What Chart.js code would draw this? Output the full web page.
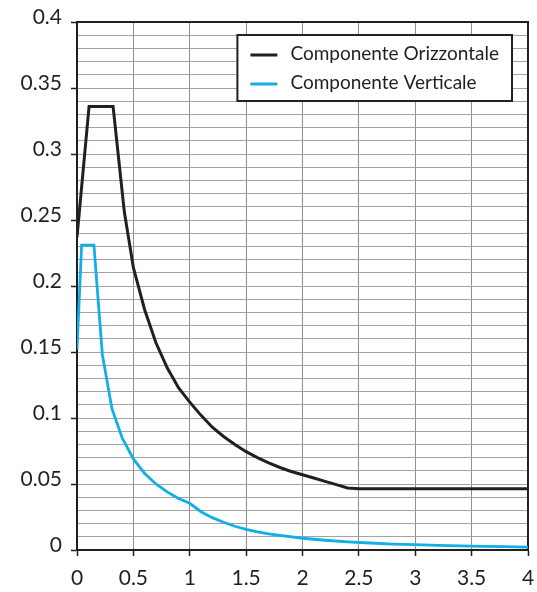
<!DOCTYPE html>
<html>
<head>
<meta charset="utf-8">
<script src="https://cdn.jsdelivr.net/npm/chart.js@4/dist/chart.umd.min.js"></script>
<style>
  html, body { margin: 0; padding: 0; background: #ffffff; }
  #wrap { width: 537px; height: 592px; }
</style>
</head>
<body>
<div id="wrap"><canvas id="c" width="537" height="592"></canvas></div>
<script>
// ---- data ----
const seriesLabels = ['Componente Orizzontale', 'Componente Verticale'];
const seriesColors = ['#231f20', '#12aee8'];

const hPeriods = [0, 0.107, 0.32, 0.42, 0.5, 0.6, 0.7, 0.8, 0.9, 1.0, 1.1, 1.2, 1.3, 1.4, 1.5, 1.6, 1.7, 1.8, 1.9, 2.0, 2.1, 2.2, 2.3, 2.4, 2.5, 3.0, 3.5, 4.0];
const hValues  = [0.237, 0.336, 0.336, 0.256, 0.214, 0.182, 0.157, 0.138, 0.123, 0.112, 0.102, 0.093, 0.086, 0.080, 0.0745, 0.070, 0.066, 0.0625, 0.0595, 0.057, 0.0545, 0.052, 0.0495, 0.047, 0.0464, 0.0464, 0.0464, 0.0464];

const vPeriods = [0, 0.041, 0.15, 0.225, 0.31, 0.4, 0.5, 0.6, 0.7, 0.8, 0.9, 1.0, 1.1, 1.2, 1.3, 1.4, 1.5, 1.6, 1.7, 1.8, 2.0, 2.2, 2.4, 2.6, 2.8, 3.0, 3.2, 3.4, 3.6, 3.8, 4.0];
const vValues  = [0.152, 0.231, 0.231, 0.148, 0.107, 0.085, 0.069, 0.058, 0.050, 0.044, 0.039, 0.0354, 0.029, 0.0245, 0.021, 0.018, 0.0157, 0.0138, 0.0122, 0.011, 0.0089, 0.0074, 0.0062, 0.0053, 0.0045, 0.0040, 0.0035, 0.0031, 0.0027, 0.0025, 0.0022];

const xTickLabels = ['0', '0.5', '1', '1.5', '2', '2.5', '3', '3.5', '4'];
const yTickLabels = ['0', '0.05', '0.1', '0.15', '0.2', '0.25', '0.3', '0.35', '0.4'];

// ---- helpers ----
const FONT = 'Lato, "Open Sans", sans-serif';
const TEXT = '#231f20';
function pts(xs, ys) { return xs.map((x, i) => ({ x: x, y: ys[i] })); }
function yMajorIndex(v) { const k = Math.round(v * 100); return k % 5 === 0 ? k / 5 : -1; }

const framePlugin = {
  id: 'frame',
  beforeDatasetsDraw(chart) {
    const a = chart.chartArea, ctx = chart.ctx;
    ctx.save();
    ctx.strokeStyle = '#231f20';
    ctx.lineWidth = 2;
    ctx.beginPath();
    ctx.moveTo(a.left, a.top);
    ctx.lineTo(a.right, a.top);
    ctx.lineTo(a.right, a.bottom);
    ctx.stroke();
    ctx.restore();
  }
};

const legendPlugin = {
  id: 'boxLegend',
  afterDraw(chart) {
    const a = chart.chartArea, ctx = chart.ctx;
    ctx.save();
    ctx.font = '19px ' + FONT;
    const ds = chart.data.datasets;
    let tw = 0;
    ds.forEach(d => { tw = Math.max(tw, ctx.measureText(d.label).width); });
    const padL = 13, lineLen = 27, gap = 13, padR = 13, rowH = 29;
    const w = padL + lineLen + gap + tw + padR;
    const h = 66;
    const right = a.right - 16;
    const x = right - w, y = a.top + 13;
    ctx.fillStyle = '#ffffff';
    ctx.fillRect(x, y, w, h);
    ctx.strokeStyle = '#231f20';
    ctx.lineWidth = 2;
    ctx.strokeRect(x, y, w, h);
    ds.forEach((d, i) => {
      const cy = y + 19 + i * rowH;
      ctx.strokeStyle = d.borderColor;
      ctx.lineWidth = 3;
      ctx.beginPath();
      ctx.moveTo(x + padL, cy + 1);
      ctx.lineTo(x + padL + lineLen, cy + 1);
      ctx.stroke();
      ctx.fillStyle = TEXT;
      ctx.textBaseline = 'middle';
      ctx.textAlign = 'left';
      ctx.fillText(d.label, x + padL + lineLen + gap, cy);
    });
    ctx.restore();
  }
};

new Chart(document.getElementById('c'), {
  type: 'line',
  data: {
    datasets: [
      { label: seriesLabels[0], data: pts(hPeriods, hValues), borderColor: seriesColors[0], borderWidth: 3, pointRadius: 0, fill: false, tension: 0 },
      { label: seriesLabels[1], data: pts(vPeriods, vValues), borderColor: seriesColors[1], borderWidth: 2.8, pointRadius: 0, fill: false, tension: 0 }
    ]
  },
  options: {
    responsive: false,
    animation: false,
    devicePixelRatio: 1,
    layout: { padding: { left: 0, top: 22, right: 9, bottom: 0 } },
    plugins: { legend: { display: false }, tooltip: { enabled: false } },
    scales: {
      x: {
        type: 'linear', min: 0, max: 4,
        afterFit(s) { s.height = 42; s.paddingLeft = 0; s.paddingRight = 0; },
        border: { color: '#231f20', width: 2 },
        grid: { color: '#8f8f8f', lineWidth: 1, tickLength: 6, tickColor: '#231f20', tickWidth: 1.5 },
        ticks: {
          stepSize: 0.5, autoSkip: false, maxRotation: 0, padding: 10, color: TEXT,
          font: { family: FONT, size: 21 },
          callback(v) { const i = Math.round(v * 2); return xTickLabels[i] !== undefined ? xTickLabels[i] : ''; }
        }
      },
      y: {
        type: 'linear', min: 0, max: 0.4,
        afterFit(s) { s.width = 77; s.paddingTop = 0; s.paddingBottom = 0; },
        border: { color: '#231f20', width: 2 },
        grid: {
          color(c) { return c.tick && Math.round(c.tick.value * 100) === 0 ? 'rgba(0,0,0,0)' : '#a3a3a3'; },
          lineWidth: 1, tickLength: 6, tickWidth: 1.5,
          tickColor(c) { return c.tick && yMajorIndex(c.tick.value) >= 0 ? '#231f20' : 'rgba(0,0,0,0)'; }
        },
        ticks: {
          stepSize: 0.01, autoSkip: false, padding: 9, color: TEXT, labelOffset: -5,
          font: { family: FONT, size: 21 },
          callback(v) { const i = yMajorIndex(v); return i >= 0 ? yTickLabels[i] : ''; }
        }
      }
    }
  },
  plugins: [framePlugin, legendPlugin]
});
</script>
</body>
</html>
